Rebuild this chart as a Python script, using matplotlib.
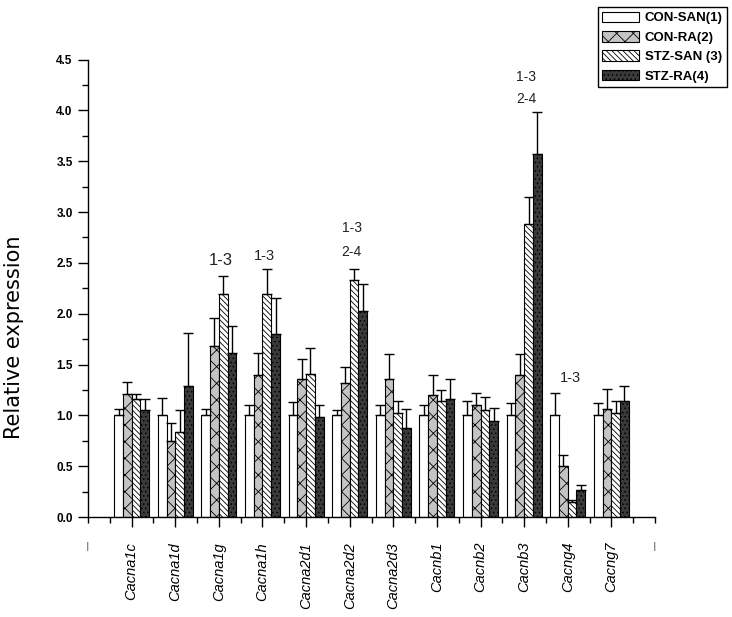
import numpy as np
import matplotlib
matplotlib.use("Agg")
import matplotlib.pyplot as plt
from matplotlib.ticker import MultipleLocator

plt.rcParams['font.family'] = ['Liberation Sans', 'DejaVu Sans']
plt.rcParams['hatch.linewidth'] = 0.6

genes = ["Cacna1c", "Cacna1d", "Cacna1g", "Cacna1h", "Cacna2d1", "Cacna2d2",
         "Cacna2d3", "Cacnb1", "Cacnb2", "Cacnb3", "Cacng4", "Cacng7"]
groups = ["CON-SAN(1)", "CON-RA(2)", "STZ-SAN (3)", "STZ-RA(4)"]

# bar heights and top of error bars
con_san = [1.00, 1.00, 1.00, 1.00, 1.00, 1.00, 1.00, 1.00, 1.00, 1.00, 1.00, 1.00]
con_san_top = [1.06, 1.17, 1.06, 1.10, 1.13, 1.05, 1.10, 1.10, 1.14, 1.12, 1.22, 1.12]
con_ra = [1.21, 0.75, 1.68, 1.40, 1.36, 1.32, 1.36, 1.20, 1.10, 1.40, 0.50, 1.06]
con_ra_top = [1.33, 0.92, 1.96, 1.61, 1.55, 1.48, 1.60, 1.40, 1.22, 1.60, 0.61, 1.26]
stz_san = [1.16, 0.84, 2.19, 2.19, 1.41, 2.33, 1.02, 1.14, 1.05, 2.88, 0.15, 1.02]
stz_san_top = [1.21, 1.05, 2.37, 2.44, 1.66, 2.44, 1.14, 1.25, 1.18, 3.15, 0.17, 1.14]
stz_ra = [1.05, 1.29, 1.61, 1.80, 0.98, 2.03, 0.88, 1.16, 0.94, 3.57, 0.27, 1.14]
stz_ra_top = [1.16, 1.81, 1.88, 2.15, 1.10, 2.29, 1.06, 1.36, 1.07, 3.98, 0.31, 1.29]

# significance labels: (gene index, y, text, fontsize)
notes = [(2, 2.52, "1-3", 12), (3, 2.57, "1-3", 10.5),
         (5, 2.84, "1-3", 10), (5, 2.61, "2-4", 10),
         (9, 4.33, "1-3", 10), (9, 4.11, "2-4", 10),
         (10, 1.37, "1-3", 10.5)]

values = [con_san, con_ra, stz_san, stz_ra]
tops = [con_san_top, con_ra_top, stz_san_top, stz_ra_top]
faces = ["white", "#c4c4c4", "white", "#3a3a3a"]
hatches = [None, "xx", "\\\\\\\\\\\\", "...."]

fig = plt.figure(figsize=(7.32, 6.17), dpi=100)
ax = fig.add_axes([88/732, 1-517/617, 567/732, 457.5/617])

x = np.arange(1, len(genes) + 1)
w = 0.2
for i in range(4):
    v = np.array(values[i])
    t = np.array(tops[i])
    pos = x + (i - 1.5) * w
    ax.bar(pos, v, w, color=faces[i], edgecolor="black", hatch=hatches[i],
           linewidth=0.8, label=groups[i])
    ax.errorbar(pos, v, yerr=[np.zeros_like(v), t - v], fmt="none",
                ecolor="black", elinewidth=1, capsize=3.5, capthick=1)

for gi, yy, txt, fs in notes:
    ax.text(x[gi] + 0.05, yy, txt, ha="center", va="center", fontsize=fs,
            color="#222222")

ax.set_xlim(0, 13)
ax.set_ylim(0, 4.5)
ax.set_xticks(x)
ax.set_xticklabels(genes, rotation=90, style="italic", fontsize=10.5, va="top")
ax.xaxis.set_minor_locator(MultipleLocator(0.5))
ax.tick_params(axis="x", which="major", length=7, width=1, pad=11)
ax.tick_params(axis="x", which="minor", length=4, width=1)

yt = np.arange(0, 4.51, 0.5)
ax.set_yticks(yt)
ax.set_yticklabels([f"{v:.1f}" for v in yt], fontsize=8.5, fontweight="bold")
ax.yaxis.set_minor_locator(MultipleLocator(0.25))
ax.tick_params(axis="y", which="major", length=7, width=1, pad=4)
ax.tick_params(axis="y", which="minor", length=4, width=1)
ax.set_ylabel("Relative expression", fontsize=15,
              family=["DejaVu Sans"])
ax.yaxis.set_label_coords(-0.112, 0.393)

for s in ["top", "right"]:
    ax.spines[s].set_visible(False)
for s in ["left", "bottom"]:
    ax.spines[s].set_linewidth(1)

for xe in [0, 13]:
    ax.text(xe, -0.068, "I", transform=ax.get_xaxis_transform(),
            ha="center", va="center", fontsize=9, color="#777777")

leg = fig.legend(loc="upper right", bbox_to_anchor=(727/732, 1 - 7/617),
                 fancybox=False, edgecolor="black", framealpha=1,
                 prop={"weight": "bold", "size": 9.5}, handlelength=2.8,
                 handleheight=0.85, labelspacing=0.5, borderpad=0.35,
                 handletextpad=0.4, borderaxespad=0)
leg.get_frame().set_linewidth(1)

fig.savefig("out.png", dpi=100)
